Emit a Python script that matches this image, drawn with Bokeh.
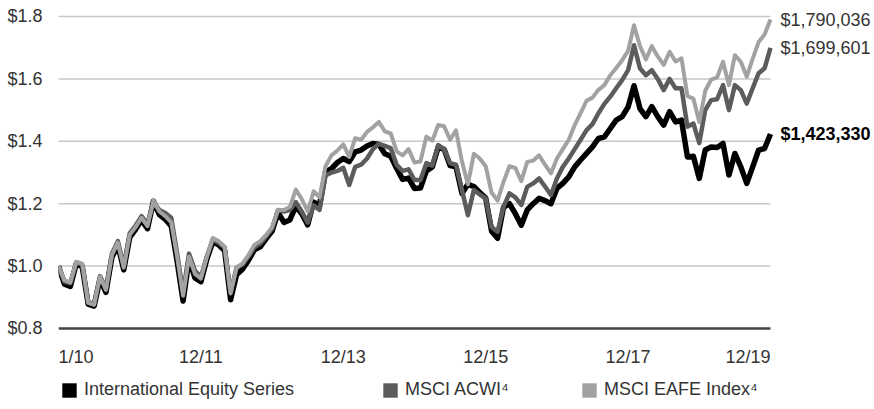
from bokeh.plotting import figure
from bokeh.models import (FixedTicker, NumeralTickFormatter, Legend,
                          LegendItem, Range1d, ColumnDataSource)
from bokeh.core.properties import value
from bokeh.embed import file_html
from bokeh.resources import INLINE

# Growth of $1 (in $ millions per $1,000,000 invested), month-end values,
# index 0 = start of 1/10, index 120 = 12/19
months = list(range(121))

fund = [
    1.000, 0.942, 0.935, 1.008, 0.998, 0.878, 0.872, 0.958, 0.916, 1.028,
    1.068, 0.988, 1.092, 1.118, 1.148, 1.120, 1.208, 1.165, 1.150, 1.128,
    1.015, 0.888, 1.022, 0.962, 0.950, 1.022, 1.078, 1.068, 1.050, 0.892,
    0.972, 0.990, 1.018, 1.052, 1.062, 1.088, 1.112, 1.172, 1.140, 1.148,
    1.192, 1.168, 1.132, 1.205, 1.195, 1.302, 1.312, 1.332, 1.345, 1.335,
    1.366, 1.372, 1.385, 1.393, 1.390, 1.360, 1.352, 1.313, 1.278, 1.282,
    1.249, 1.250, 1.305, 1.318, 1.382, 1.374, 1.322, 1.318, 1.233, 1.262,
    1.255, 1.236, 1.218, 1.112, 1.089, 1.188, 1.200, 1.168, 1.131, 1.180,
    1.200, 1.217, 1.210, 1.200, 1.249, 1.265, 1.286, 1.318, 1.340, 1.361,
    1.382, 1.409, 1.414, 1.441, 1.468, 1.479, 1.510, 1.578, 1.505, 1.479,
    1.511, 1.479, 1.452, 1.495, 1.462, 1.468, 1.350, 1.352, 1.281, 1.372,
    1.382, 1.380, 1.393, 1.292, 1.361, 1.318, 1.265, 1.318, 1.372, 1.377,
    1.423330,
]

acwi = [
    1.000, 0.950, 0.945, 1.012, 1.005, 0.885, 0.880, 0.968, 0.928, 1.040,
    1.080, 1.000, 1.105, 1.130, 1.160, 1.135, 1.205, 1.180, 1.170, 1.155,
    1.040, 0.915, 1.040, 0.985, 0.965, 1.030, 1.085, 1.075, 1.060, 0.915,
    0.995, 1.005, 1.030, 1.060, 1.072, 1.095, 1.120, 1.180, 1.175, 1.180,
    1.205, 1.175, 1.140, 1.195, 1.180, 1.290, 1.300, 1.305, 1.315, 1.260,
    1.318, 1.325, 1.345, 1.375, 1.392, 1.385, 1.378, 1.325, 1.305, 1.310,
    1.276, 1.276, 1.330, 1.322, 1.388, 1.375, 1.330, 1.325, 1.244, 1.163,
    1.244, 1.230, 1.217, 1.125, 1.110, 1.190, 1.233, 1.220, 1.196, 1.254,
    1.265, 1.281, 1.255, 1.228, 1.281, 1.318, 1.345, 1.375, 1.405, 1.436,
    1.455, 1.490, 1.520, 1.543, 1.570, 1.596, 1.628, 1.708, 1.634, 1.612,
    1.628, 1.600, 1.564, 1.600, 1.570, 1.570, 1.447, 1.457, 1.394, 1.500,
    1.532, 1.535, 1.580, 1.500, 1.580, 1.564, 1.521, 1.570, 1.618, 1.634,
    1.699601,
]

eafe = [
    1.000, 0.955, 0.948, 1.014, 1.008, 0.882, 0.876, 0.966, 0.924, 1.035,
    1.075, 0.995, 1.100, 1.125, 1.155, 1.128, 1.210, 1.175, 1.160, 1.140,
    1.030, 0.905, 1.030, 0.975, 0.960, 1.030, 1.090, 1.080, 1.062, 0.912,
    0.995, 1.008, 1.035, 1.068, 1.080, 1.100, 1.125, 1.180, 1.180, 1.190,
    1.245, 1.215, 1.175, 1.240, 1.220, 1.320, 1.355, 1.370, 1.390, 1.350,
    1.410, 1.405, 1.430, 1.445, 1.462, 1.432, 1.425, 1.368, 1.355, 1.375,
    1.332, 1.335, 1.415, 1.402, 1.452, 1.448, 1.405, 1.435, 1.335, 1.262,
    1.360, 1.345, 1.320, 1.235, 1.210, 1.270, 1.320, 1.315, 1.272, 1.334,
    1.338, 1.355, 1.325, 1.297, 1.345, 1.375, 1.405, 1.452, 1.490, 1.530,
    1.540, 1.565, 1.580, 1.612, 1.635, 1.660, 1.690, 1.772, 1.705, 1.662,
    1.705, 1.672, 1.645, 1.687, 1.656, 1.666, 1.545, 1.537, 1.462, 1.562,
    1.598, 1.605, 1.655, 1.580, 1.676, 1.655, 1.607, 1.665, 1.718, 1.742,
    1.790036,
]

series_names = ["International Equity Series", "MSCI ACWI\u2074", "MSCI EAFE Index\u2074"]
tick_months = [0, 24, 48, 72, 96, 120]
tick_labels = ["1/10", "12/11", "12/13", "12/15", "12/17", "12/19"]
y_ticks = [0.8, 1.0, 1.2, 1.4, 1.6, 1.8]

FONT = "Liberation Sans"
TEXT = "#333333"
COLORS = ["#000000", "#5c5c5c", "#a2a2a2"]
WIDTHS = [5.5, 4.5, 4.0]

# The frame runs to the right and bottom edges of the canvas so that the
# end-value labels, date labels and legend row are drawn inside it.
p = figure(width=874, height=409, output_backend="svg", toolbar_location=None,
           x_range=Range1d(0, 137.53), y_range=Range1d(0.54038, 1.83846),
           x_axis_location=None,
           min_border_left=58, min_border_right=0,
           min_border_top=4, min_border_bottom=0)
p.outline_line_color = None
p.background_fill_color = "white"
p.border_fill_color = "white"
p.grid.visible = False

# value axis
p.yaxis.ticker = FixedTicker(ticks=y_ticks)
p.yaxis.formatter = NumeralTickFormatter(format="$0.0")
p.yaxis.axis_line_color = None
p.yaxis.major_tick_line_color = None
p.yaxis.minor_tick_line_color = None
p.yaxis.major_label_standoff = 10
p.yaxis.major_label_text_font = FONT
p.yaxis.major_label_text_font_size = "18px"
p.yaxis.major_label_text_color = TEXT

first, last = months[0], months[-1]

# horizontal gridlines across the data span, and the baseline at $0.8
grid_vals = y_ticks[1:]
p.segment(x0=[first] * len(grid_vals), x1=[last] * len(grid_vals),
          y0=grid_vals, y1=grid_vals, line_color="#c8c8c8", line_width=1.5)
p.segment(x0=[first], x1=[last], y0=[y_ticks[0]], y1=[y_ticks[0]],
          line_color="#444444", line_width=2.5)

# date labels under the baseline: the outer two sit flush with the data span
aligns = ["left"] + ["center"] * (len(tick_labels) - 2) + ["right"]
date_src = ColumnDataSource(dict(x=tick_months, y=[y_ticks[0]] * len(tick_months),
                                 label=tick_labels, align=aligns))
p.text(x="x", y="y", text="label", source=date_src, y_offset=29,
       text_align="align", text_baseline="middle",
       text_font=value(FONT), text_font_size="18px", text_color=TEXT)

# the three growth lines; benchmarks drawn over the fund
all_series = [fund, acwi, eafe]
for vals, color, w in zip(all_series, COLORS, WIDTHS):
    p.line(months, vals, line_color=color, line_width=w, line_join="round")

# ending values at the right edge
ends = [vals[-1] for vals in all_series]
end_src = ColumnDataSource(dict(
    x=[last] * 3, y=ends,
    label=["${:,.0f}".format(v * 1_000_000) for v in ends],
    style=["bold", "normal", "normal"],
    color=["#000000", TEXT, TEXT],
))
p.text(x="x", y="y", text="label", source=end_src, x_offset=10,
       text_baseline="middle", text_font=value(FONT), text_font_size="18px",
       text_font_style="style", text_color="color")

# legend row, one filled swatch per series (the swatch renderer is a
# zero-size box on the series' last point, so only its legend entry shows)
legend_x = [2, 323, 522]
for name, color, lx, end in zip(series_names, COLORS, legend_x, ends):
    swatch = p.rect(x=[last], y=[end], width=0, height=0, fill_color=color,
                    line_color=None)
    leg = Legend(items=[LegendItem(label=name, renderers=[swatch])],
                 location=(lx, 9), orientation="horizontal",
                 glyph_width=18, glyph_height=18, label_height=18,
                 label_standoff=6, padding=0, margin=0, spacing=0,
                 border_line_color=None, background_fill_alpha=0,
                 label_text_font=FONT, label_text_font_size="18px",
                 label_text_color=TEXT)
    p.add_layout(leg)

open("out.html", "w").write(file_html(p, INLINE))
